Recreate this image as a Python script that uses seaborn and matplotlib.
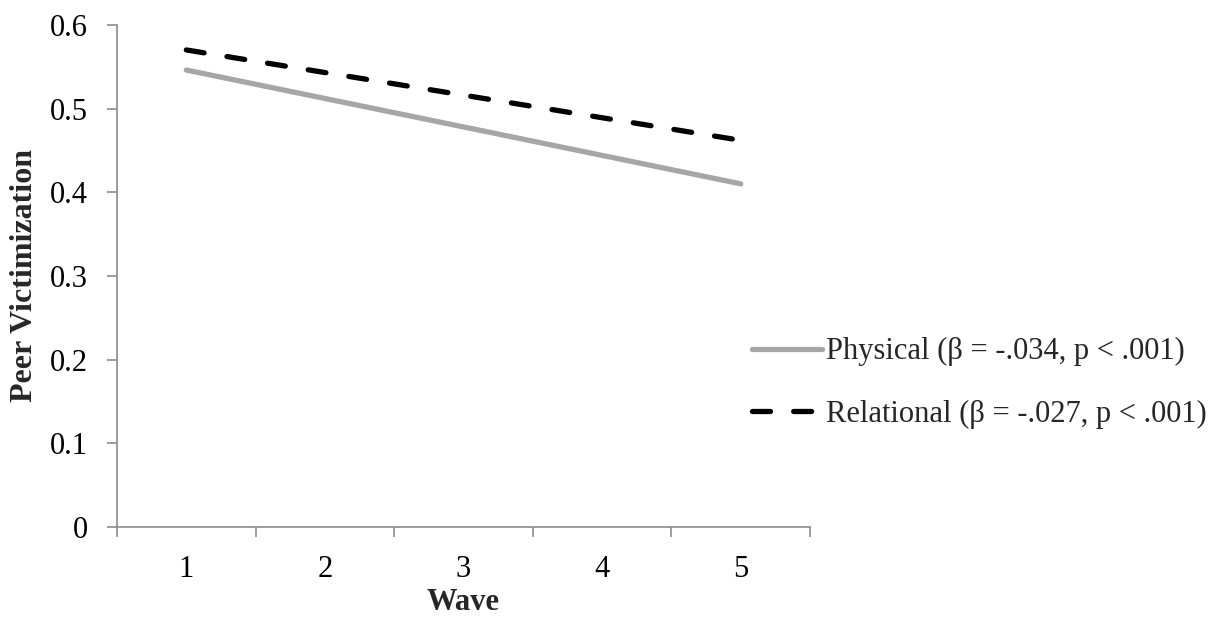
import matplotlib
matplotlib.use("Agg")
import matplotlib.pyplot as plt
import seaborn as sns
import pandas as pd
import numpy as np
from matplotlib.ticker import FixedLocator

waves = [1, 2, 3, 4, 5]
physical = [0.546, 0.512, 0.478, 0.444, 0.410]
relational = [0.570, 0.543, 0.516, 0.489, 0.462]
labels = ["Physical (\u03b2 = -.034, p < .001)", "Relational (\u03b2 = -.027, p < .001)"]
yticks = [0, 0.1, 0.2, 0.3, 0.4, 0.5, 0.6]

sns.set_style("white")
plt.rcParams['font.family'] = ['Liberation Serif', 'DejaVu Serif']

FS = 22

df = pd.DataFrame({
    "Wave": waves * 2,
    "Value": physical + relational,
    "Series": [labels[0]] * 5 + [labels[1]] * 5,
})

fig = plt.figure(figsize=(12.32, 6.21), dpi=100)
ax = fig.add_axes([0.095, 0.1514, 0.5625, 0.8086])

sns.lineplot(data=df[df.Series == labels[0]], x="Wave", y="Value", ax=ax,
             color="#A6A6A6", linewidth=3.8, solid_capstyle="round", label=labels[0])
sns.lineplot(data=df[df.Series == labels[1]], x="Wave", y="Value", ax=ax,
             color="black", linewidth=3.8, label=labels[1])
ax.lines[1].set_dashes([3.4, 4.4])
ax.lines[1].set_dash_capstyle("round")

ax.set_xlim(0.5, 5.5)
ax.set_ylim(0, 0.6)
ax.set_xticks(waves)
ax.set_xticklabels([str(w) for w in waves])
ax.xaxis.set_minor_locator(FixedLocator([0.5, 1.5, 2.5, 3.5, 4.5, 5.5]))
ax.set_yticks(yticks)
ax.set_yticklabels(["0" if v == 0 else f"{v:.1f}" for v in yticks])

ax.tick_params(axis="x", which="major", bottom=True, length=0, pad=20, labelsize=FS, labelcolor="black")
ax.tick_params(axis="x", which="minor", bottom=True, length=7, width=1.2, color="#8C8C8C", direction="out")
ax.tick_params(axis="y", which="major", left=True, length=7, width=1.2, color="#8C8C8C", direction="out",
               pad=14, labelsize=FS, labelcolor="black")

for s in ["top", "right"]:
    ax.spines[s].set_visible(False)
for s in ["left", "bottom"]:
    ax.spines[s].set_color("#8C8C8C")
    ax.spines[s].set_linewidth(1.2)

ax.set_xlabel("Wave", fontsize=FS, fontweight="bold", labelpad=3)
ax.set_ylabel("Peer Victimization", fontsize=FS + 1, fontweight="bold", labelpad=8)

handles, labs = ax.get_legend_handles_labels()
ax.get_legend().remove()
leg = fig.legend(handles, labs, loc="center left", bbox_to_anchor=(0.588, 0.383),
                 frameon=False, fontsize=FS, handlelength=2.3, handletextpad=0.12,
                 labelspacing=1.1)

fig.savefig("out.png", dpi=100, facecolor="white")
